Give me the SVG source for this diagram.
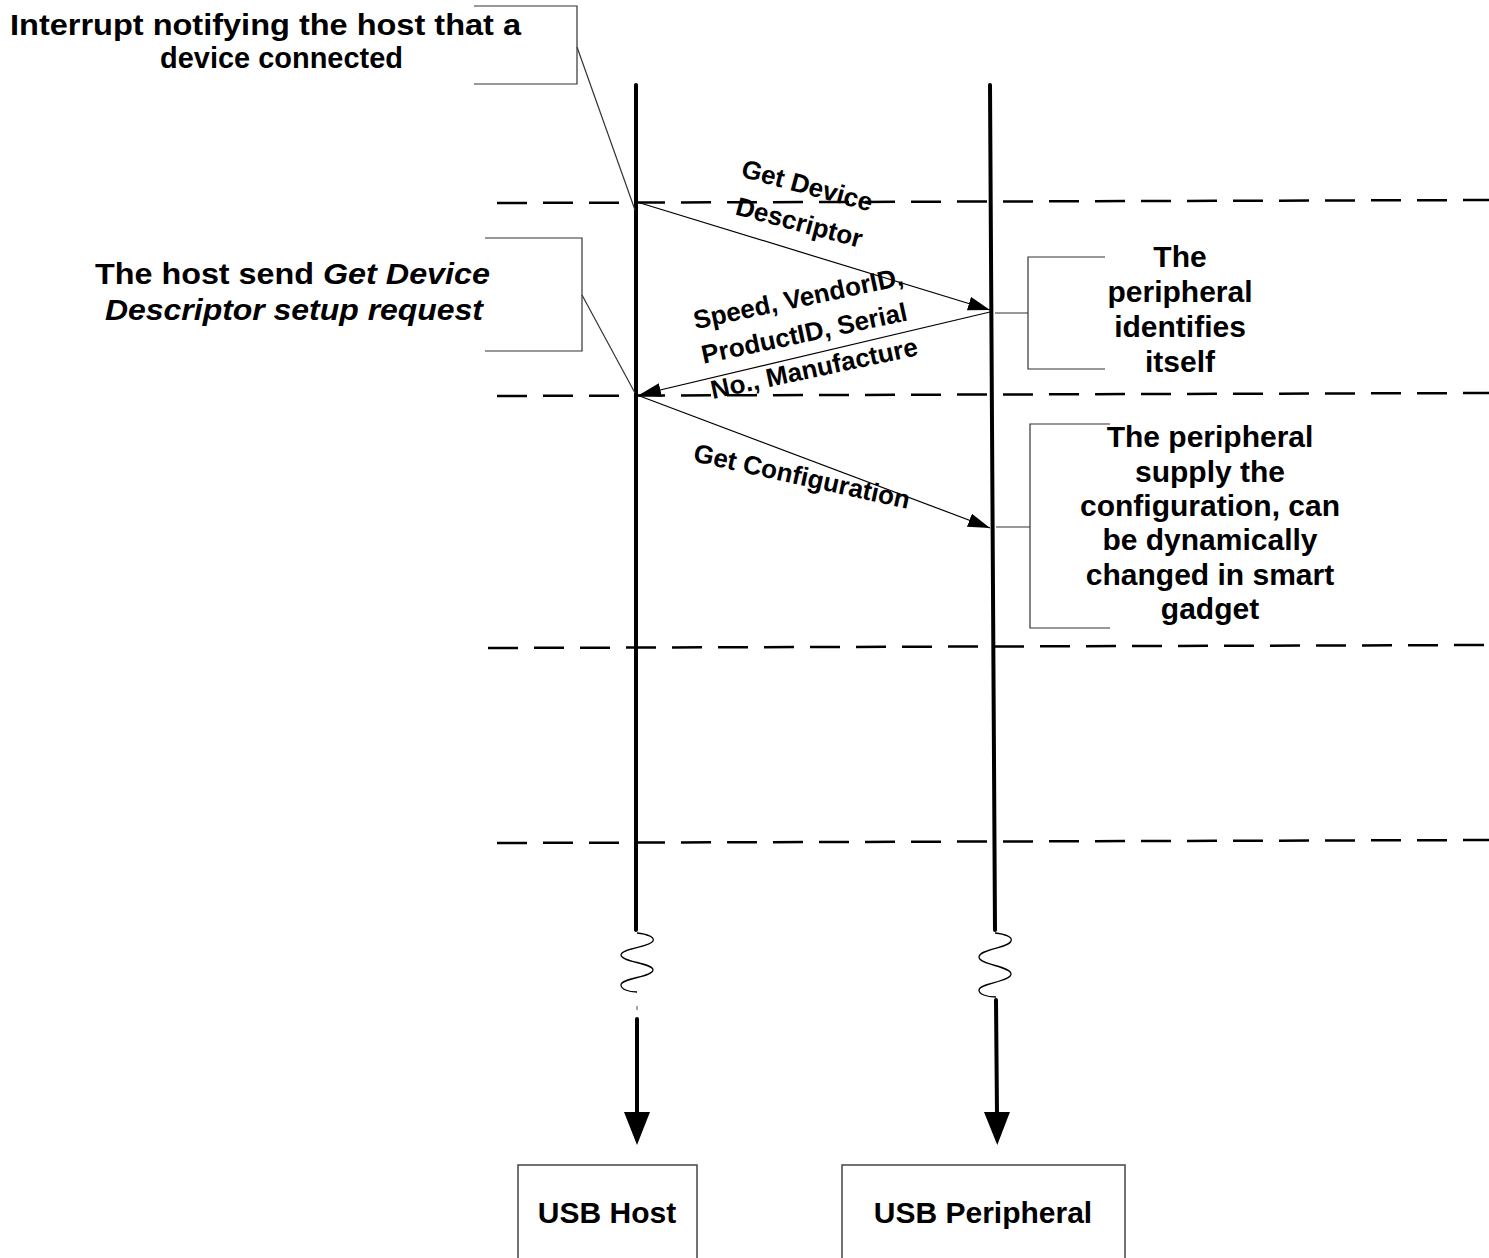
<svg xmlns="http://www.w3.org/2000/svg" width="1489" height="1258" viewBox="0 0 1489 1258">
  <style>
    text { font-family: "Liberation Sans", Arial, sans-serif; font-weight: bold; fill: #000; }
    .note { font-size: 29px; }
    .side { font-size: 30px; text-anchor: middle; }
    .msg { font-size: 26px; text-anchor: middle; }
    .lbl { font-size: 30px; text-anchor: middle; }
    .bracket { fill: none; stroke: #333; stroke-width: 1.2; }
    .box { fill: #fff; stroke: #444; stroke-width: 1.5; }
    .life { fill: none; stroke: #000; stroke-width: 4; stroke-linecap: round; }
    .wave { fill: none; stroke: #000; stroke-width: 1.3; }
    .phase { fill: none; stroke: #000; stroke-width: 2.5; stroke-dasharray: 30 16; }
    .call { fill: none; stroke: #000; stroke-width: 1.2; marker-end: url(#head); }
  </style>
  <defs>
    <marker id="head" markerUnits="userSpaceOnUse" markerWidth="24" markerHeight="16" refX="22" refY="7" orient="auto">
      <path d="M0,0 L22,7 L0,14 Z" fill="#000"/>
    </marker>
    <marker id="bighead" markerUnits="userSpaceOnUse" markerWidth="34" markerHeight="28" refX="2" refY="13" orient="auto">
      <path d="M0,0 L33,13 L0,26 Z" fill="#000"/>
    </marker>
  </defs>

  <!-- phase separators -->
  <g id="phases">
    <path class="phase" d="M497,203 L1489,200"/>
    <path class="phase" d="M497,396 L1489,393"/>
    <path class="phase" d="M488,648 L1489,645"/>
    <path class="phase" d="M497,843 L1489,840"/>
  </g>

  <!-- USB Host lifeline and box -->
  <g id="host">
    <path class="life" d="M636,85 L636,930"/>
    <path class="wave" d="M637,933 C647,934 655,937 653,941 C651,947 621,948 621,955 C621,962 653,963 653,970 C653,977 621,978 621,985 C621,989 628,992 637,992"/>
    <path d="M637,1006 L637,1010" stroke="#888" stroke-width="1.5"/>
    <path class="life" d="M637,1019 L637,1114" stroke-linecap="butt" marker-end="url(#bighead)"/>
    <rect class="box" x="518" y="1165" width="179" height="110"/>
    <text class="lbl" x="607" y="1223">USB Host</text>
  </g>

  <!-- USB Peripheral lifeline and box -->
  <g id="peripheral">
    <path class="life" d="M990,85 L995,930"/>
    <path class="wave" d="M995,933 C1005,934 1013,937 1011,941 C1009,948 979,949 979,957 C979,965 1011,966 1011,974 C1011,982 979,983 979,990 C979,994 986,997 996,997"/>
    <path class="life" d="M996,1000 L997,1114" stroke-linecap="butt" marker-end="url(#bighead)"/>
    <rect class="box" x="842" y="1165" width="283" height="110"/>
    <text class="lbl" x="983" y="1223">USB Peripheral</text>
  </g>

  <!-- annotation: interrupt -->
  <g id="note-interrupt">
    <path class="bracket" d="M474,6 L577,6 L577,84 L474,84"/>
    <text class="note" x="10" y="35" textLength="511" lengthAdjust="spacingAndGlyphs">Interrupt notifying the host that a</text>
    <text class="note" x="160" y="68" textLength="243" lengthAdjust="spacingAndGlyphs">device connected</text>
  </g>

  <!-- annotation: host request -->
  <g id="note-request">
    <path class="bracket" d="M485,238 L582,238 L582,351 L485,351"/>
    <text class="note" x="95" y="284" textLength="395" lengthAdjust="spacingAndGlyphs">The host send <tspan font-style="italic">Get Device</tspan></text>
    <text class="note" x="105" y="320" font-style="italic" textLength="378" lengthAdjust="spacingAndGlyphs">Descriptor setup request</text>
  </g>

  <!-- annotation: peripheral identifies -->
  <g id="note-identify">
    <path class="bracket" d="M1105,257 L1028,257 L1028,369 L1105,369 M995,313 L1028,313"/>
    <text class="side" x="1180" y="267">The</text>
    <text class="side" x="1180" y="302">peripheral</text>
    <text class="side" x="1180" y="337">identifies</text>
    <text class="side" x="1180" y="372">itself</text>
  </g>

  <!-- annotation: configuration -->
  <g id="note-config">
    <path class="bracket" d="M1110,424 L1030,424 L1030,628 L1110,628 M996,527 L1030,527"/>
    <text class="side" x="1210" y="447">The peripheral</text>
    <text class="side" x="1210" y="482">supply the</text>
    <text class="side" x="1210" y="516">configuration, can</text>
    <text class="side" x="1210" y="550">be dynamically</text>
    <text class="side" x="1210" y="585">changed in smart</text>
    <text class="side" x="1210" y="619">gadget</text>
  </g>

  <!-- messages and leader lines -->
  <g id="connectors">
    <path class="bracket" d="M577,47 L635,210"/>
    <path class="bracket" d="M582,295 L635,393"/>
    <path class="call" d="M637,202 L990,310"/>
    <path class="call" d="M990,312 L639,395"/>
    <path class="call" d="M637,395 L990,528"/>
    <text class="msg" transform="translate(805,194) rotate(15)">Get Device</text>
    <text class="msg" transform="translate(797,231) rotate(15)">Descriptor</text>
    <text class="msg" transform="translate(800,307) rotate(-12)">Speed, VendorID,</text>
    <text class="msg" transform="translate(806,342) rotate(-12)">ProductID, Serial</text>
    <text class="msg" transform="translate(816,377) rotate(-12)">No., Manufacture</text>
    <text class="msg" transform="translate(800,485) rotate(12.5)">Get Configuration</text>
  </g>
</svg>
